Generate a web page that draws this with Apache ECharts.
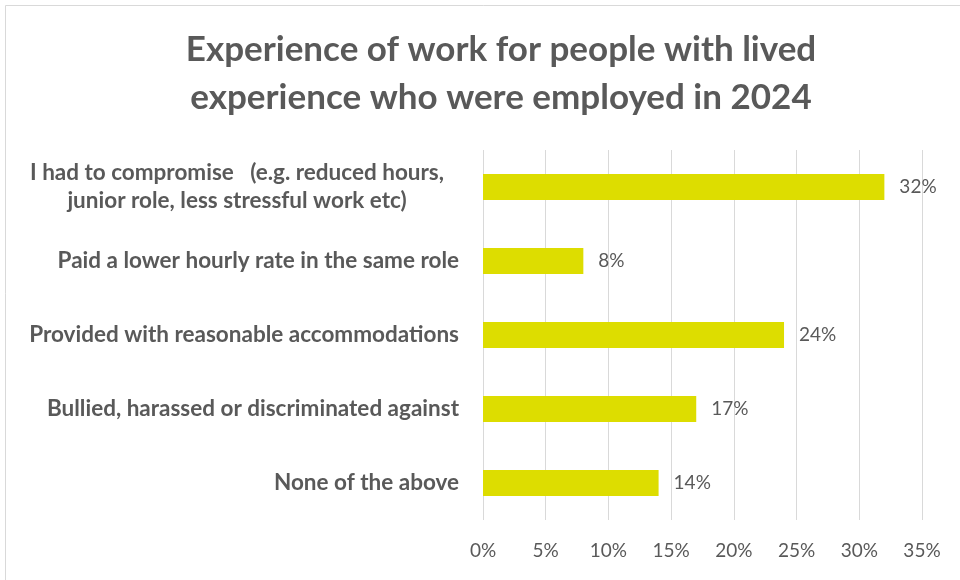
<!DOCTYPE html>
<html>
<head>
<meta charset="utf-8">
<script src="https://cdn.jsdelivr.net/npm/echarts@6/dist/echarts.min.js"></script>
<style>
  html, body { margin: 0; padding: 0; background: #fff; }
  #chart { width: 960px; height: 580px; }
</style>
</head>
<body>
<div id="chart"></div>
<script>
// categories, top to bottom as in the picture
var categories = [
  'I had to compromise   (e.g. reduced hours,\njunior role, less stressful work etc)',
  'Paid a lower hourly rate in the same role',
  'Provided with reasonable accommodations',
  'Bullied, harassed or discriminated against',
  'None of the above'
];
var values = [32, 8, 24, 17, 14];
var tickValues = [0, 5, 10, 15, 20, 25, 30, 35];

var textColor = '#595959';
var fontFamily = 'Lato, "Open Sans", sans-serif';

var chart = echarts.init(document.getElementById('chart'));

// multi-line labels are centred line by line, like the original
function catLabel(v) {
  if (v.indexOf('\n') < 0) return v;
  return v.split('\n').map(function (s) { return '{c|' + s + '}'; }).join('\n');
}

var option = {
  backgroundColor: '#fff',
  animation: false,
  title: {
    text: 'Experience of work for people with lived\nexperience who were employed in 2024',
    left: 496,
    top: 21,
    textAlign: 'center',
    textStyle: {
      color: textColor,
      fontFamily: fontFamily,
      fontWeight: 'bold',
      fontSize: 35,
      lineHeight: 48
    }
  },
  graphic: [{
    type: 'rect',
    shape: { x: 5.5, y: 5.5, width: 970, height: 600 },
    style: { fill: 'none', stroke: '#d9d9d9', lineWidth: 1 },
    silent: true
  }],
  grid: {
    left: 483,
    right: 38,
    top: 150,
    bottom: 60,
    containLabel: false
  },
  xAxis: {
    type: 'value',
    min: 0,
    max: 35,
    interval: 5,
    axisLine: { show: false },
    axisTick: { show: false },
    splitLine: { show: true, lineStyle: { color: '#d9d9d9', width: 1 } },
    axisLabel: {
      color: textColor,
      fontFamily: fontFamily,
      fontSize: 19,
      margin: 21,
      formatter: function (v) { return v + '%'; }
    }
  },
  yAxis: {
    type: 'category',
    inverse: true,
    data: categories,
    axisLine: { show: false },
    axisTick: { show: false },
    axisLabel: {
      color: textColor,
      fontFamily: fontFamily,
      fontWeight: 'bold',
      fontSize: 22.5,
      lineHeight: 28,
      margin: 24,
      align: 'right',
      formatter: catLabel,
      rich: {
        c: {
          color: textColor,
          fontFamily: fontFamily,
          fontWeight: 'bold',
          fontSize: 22.5,
          lineHeight: 28,
          width: 444,
          align: 'center'
        }
      }
    }
  },
  series: [{
    type: 'bar',
    data: values,
    barWidth: 26,
    itemStyle: { color: '#dddd00' },
    label: {
      show: true,
      position: 'right',
      distance: 15,
      color: textColor,
      fontFamily: fontFamily,
      fontSize: 19,
      formatter: function (p) { return p.value + '%'; }
    }
  }]
};

chart.setOption(option);
</script>
</body>
</html>
